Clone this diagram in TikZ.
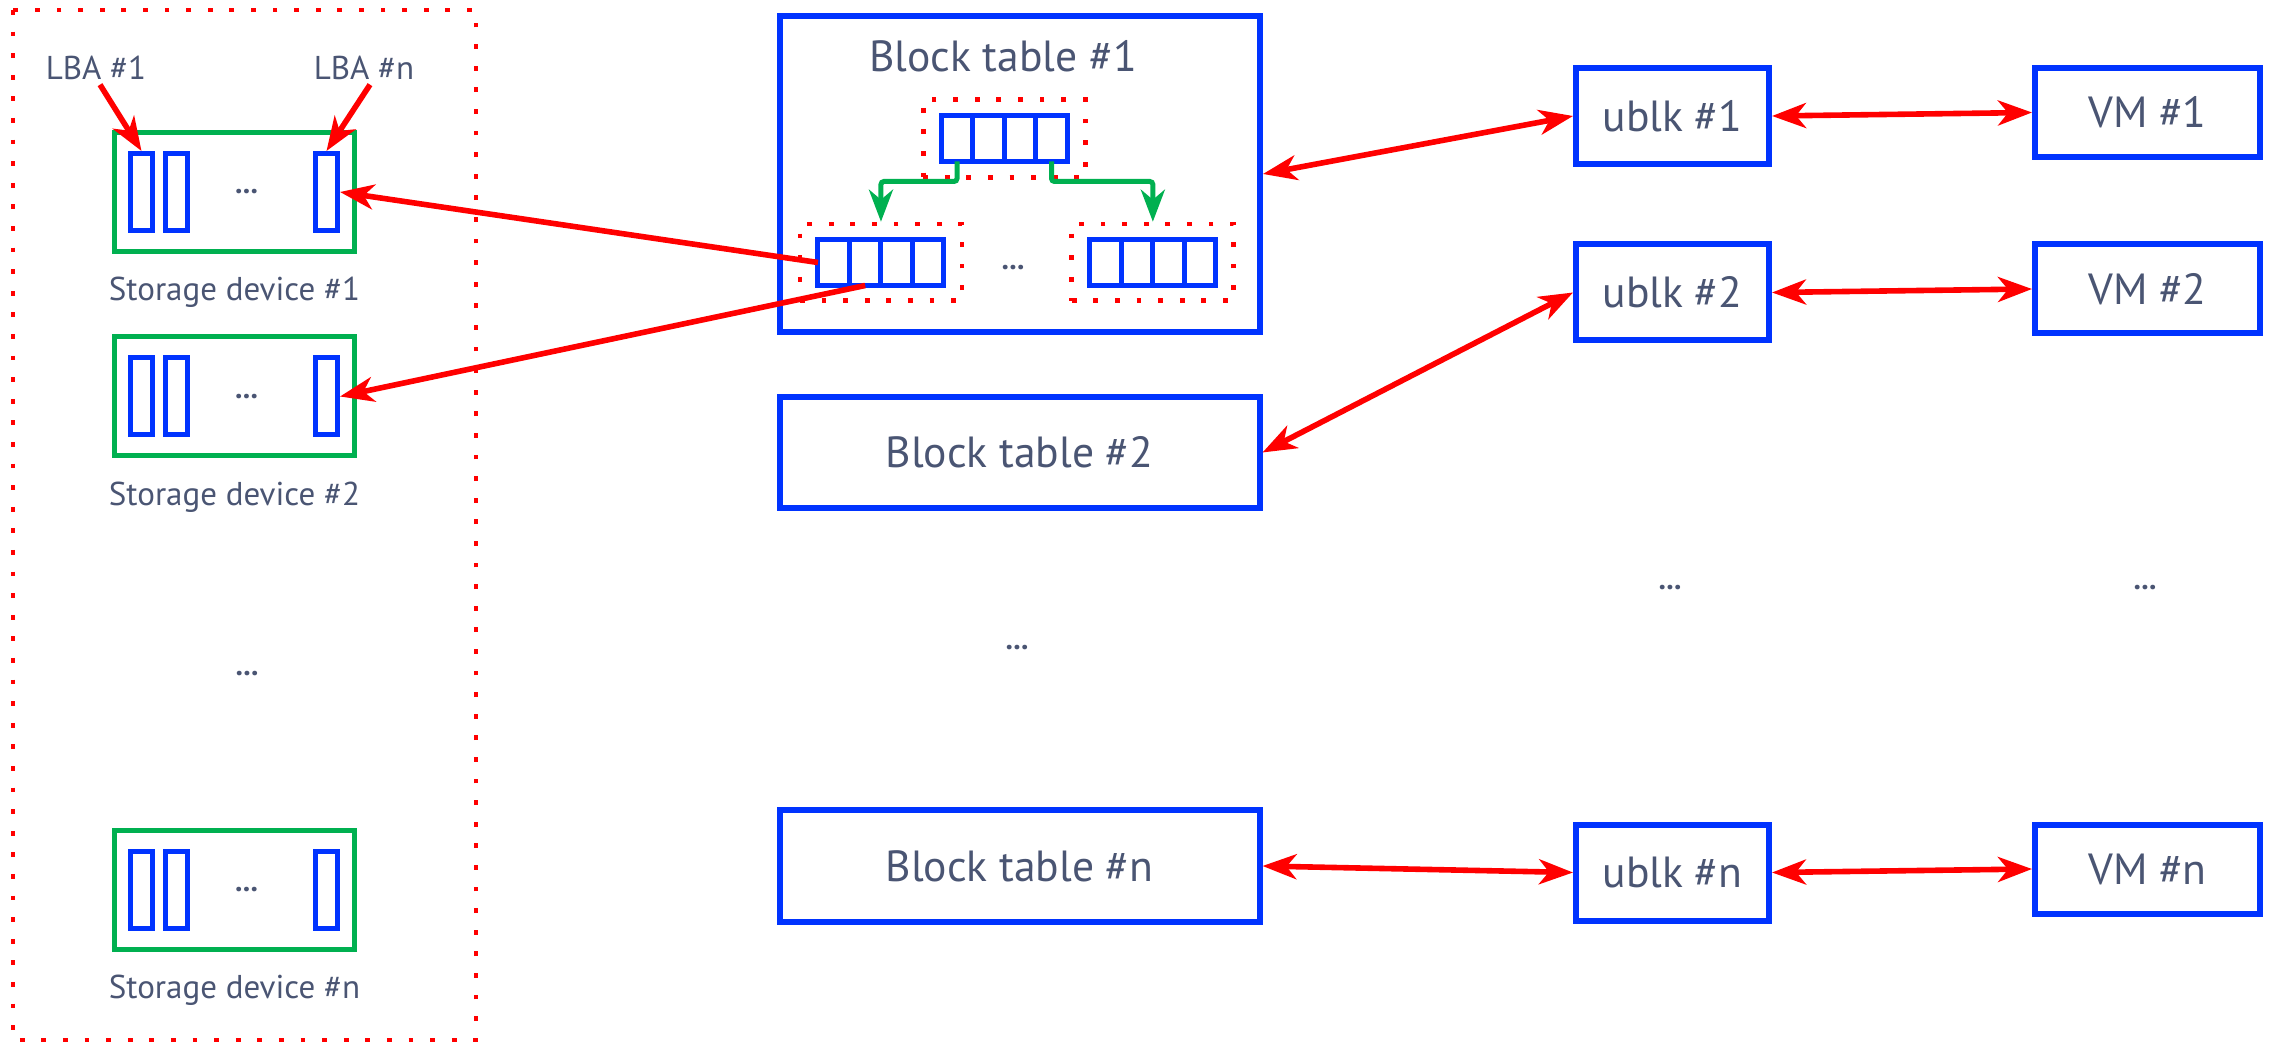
\documentclass[tikz,border=0pt]{standalone}
\usepackage{fontspec}
\setmainfont{PT Sans}
\usetikzlibrary{arrows.meta,positioning,fit,calc}

\definecolor{inkgray}{RGB}{74,85,115}
\definecolor{boxblue}{RGB}{0,51,255}
\definecolor{devgreen}{RGB}{0,176,80}

\begin{document}
\begin{tikzpicture}[
  x=0.5pt, y=-0.5pt,
  >={Stealth[length=17pt, width=12.5pt, inset=5pt]},
  every node/.style={text=inkgray, inner sep=2pt},
  bigtxt/.style={font=\fontsize{21.8}{26}\selectfont},
  smalltxt/.style={font=\fontsize{16.5}{20}\selectfont},
  dotstxt/.style={font=\fontsize{15}{18}\selectfont\bfseries},
  tablebox/.style={draw=boxblue, line width=3pt, minimum width=240pt, bigtxt},
  ublkbox/.style={draw=boxblue, line width=3pt, minimum width=96.5pt, minimum height=48pt, bigtxt},
  vmbox/.style={draw=boxblue, line width=3pt, minimum width=112.5pt, minimum height=44.5pt, bigtxt},
  devbox/.style={draw=devgreen, line width=2.5pt, minimum width=120pt, minimum height=59.5pt},
  lbacell/.style={draw=boxblue, line width=2.5pt, minimum width=11pt, minimum height=38.5pt, inner sep=0pt},
  tabcell/.style={draw=boxblue, line width=2.5pt, minimum width=15.75pt, minimum height=23pt, inner sep=0pt, outer sep=0pt},
  dotbox/.style={draw=red, line width=2.4pt, dash pattern=on 2.4pt off 8.4pt},
  link/.style={<->, draw=red, line width=2.8pt},
  ptr/.style={->, draw=red, line width=2.8pt},
  walk/.style={-{Stealth[length=16pt, width=12pt, inset=5pt]}, draw=devgreen, line width=2.5pt, rounded corners=1.5pt}
]
\useasboundingbox (0,0) rectangle (2277,1047);

% storage side
\draw[dotbox] (13,10) rectangle (476,1040);
\foreach \i/\y in {1/192, 2/396.5, n/889.5} {
  \node[devbox] (dev\i) at (234.5,\y) {};
  \node[lbacell, right=8pt of dev\i.west] (d\i-a) {};
  \node[lbacell, right=4pt of d\i-a] (d\i-b) {};
  \node[lbacell, left=8.5pt of dev\i.east] (d\i-c) {};
  \node[dotstxt] (d\i-dots) at ([xshift=6pt]dev\i.center) {...};
  \node[smalltxt, anchor=base] (d\i-name) at ([yshift=-23.5pt]dev\i.south) {Storage device \#\i};
}
\node[dotstxt] (devgap) at (247,674) {...};

\node[smalltxt, anchor=base] (lba1) at (96,80) {LBA \#1};
\node[smalltxt, anchor=base] (lban) at (364,80) {LBA \#n};
\draw[ptr] ([xshift=2pt]lba1.south) -- (d1-a.north);
\draw[ptr] ([xshift=3pt]lban.south) -- (d1-c.north);

% block tables
\node[tablebox, minimum height=158pt] (bt1) at (1020,174) {};
\node[bigtxt, anchor=base] (bt1name) at ([xshift=-8.5pt, yshift=-29.5pt]bt1.north) {Block table \#1};
\node[tablebox, minimum height=55.5pt] (bt2) at (1019.5,452.5) {Block table \#2};
\node[tablebox, minimum height=56pt] (btn) at (1019.5,866) {Block table \#n};
\node[dotstxt] (btgap) at (1017,648) {...};

% levels of block table #1
\node[tabcell] (t0-1) at (957,138.5) {};
\node[tabcell] (tl-1) at (833.7,262.5) {};
\node[tabcell] (tr-1) at (1105.6,262.5) {};
\foreach \g in {t0,tl,tr}
  \foreach \j [count=\k from 2] in {1,2,3}
    \node[tabcell, right=0pt of \g-\j] (\g-\k) {};
\node[dotbox, fit=(t0-1)(t0-4), inner xsep=9pt, inner ysep=8pt] (grp0) {};
\node[dotbox, fit=(tl-1)(tl-4), inner xsep=9pt, inner ysep=7.7pt] (grpL) {};
\node[dotbox, fit=(tr-1)(tr-4), inner xsep=9pt, inner ysep=7.7pt] (grpR) {};
\node[dotstxt] (grpgap) at (1013,268) {...};

\draw[walk] (t0-1.south) -- ++(0,20) -| (grpL.north);
\draw[walk] (t0-4.south) -- ++(0,20) -| (grpR.north);

\draw[ptr] (tl-1.west) -- (d1-c.east);
\draw[ptr] (tl-2.south) -- (d2-c.east);

% ublk and VMs
\node[ublkbox] (ublk1) at (1672.5,116) {ublk \#1};
\node[ublkbox] (ublk2) at (1672.5,292.5) {ublk \#2};
\node[ublkbox] (ublkn) at (1672.5,872.5) {ublk \#n};
\foreach \k in {1,2,n} {
  \node[vmbox, anchor=north west] (vm\k) at ([xshift=130pt]ublk\k.north east) {VM \#\k};
  \draw[link] (bt\k.east) -- (ublk\k.west);
  \draw[link] (ublk\k.east) -- (vm\k.west);
}
\node[dotstxt] (ublkgap) at (1670,588) {...};
\node[dotstxt] (vmgap) at (2145,588) {...};
\end{tikzpicture}
\end{document}
